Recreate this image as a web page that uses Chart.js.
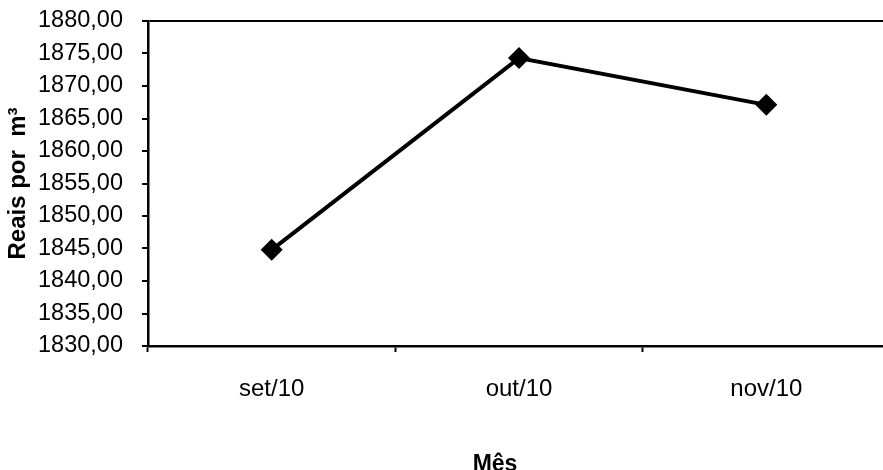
<!DOCTYPE html>
<html>
<head>
<meta charset="utf-8">
<script src="https://cdn.jsdelivr.net/npm/chart.js@4.4.0/dist/chart.umd.min.js"></script>
<style>
  html, body { margin: 0; padding: 0; background: #fff; overflow: hidden; }
  #wrap { width: 883px; height: 470px; overflow: hidden; }
</style>
</head>
<body>
<div id="wrap"><canvas id="chart" width="990" height="478"></canvas></div>
<script>
// data
const months = ["set/10", "out/10", "nov/10"];
const pricePerM3 = [1844.8, 1874.3, 1867.1];
const yMin = 1830;
const yMax = 1880;
const yStep = 5;

const FONT = "'Liberation Sans', Arial, sans-serif";

// "1845" -> "1845,00"
function fmt(v) {
  return v.toFixed(2).replace(".", ",");
}

const ctx = document.getElementById("chart").getContext("2d");
new Chart(ctx, {
  type: "line",
  data: {
    labels: months,
    datasets: [{
      data: pricePerM3,
      borderColor: "#000",
      backgroundColor: "#000",
      borderWidth: 4,
      pointStyle: "rectRot",
      pointRadius: 11,
      pointBorderWidth: 0,
      tension: 0
    }]
  },
  options: {
    responsive: false,
    animation: false,
    devicePixelRatio: 1,
    layout: { padding: { top: 21, left: 0, right: 0, bottom: 0 } },
    plugins: {
      legend: { display: false },
      tooltip: { enabled: false },
      title: {
        display: true,
        position: "bottom",
        text: "Mês",
        color: "#000",
        font: { family: FONT, size: 23, weight: "bold", lineHeight: 1.2 },
        padding: { top: 0, bottom: 0 }
      }
    },
    scales: {
      x: {
        type: "category",
        offset: true,
        grid: {
          display: true,
          offset: true,
          drawOnChartArea: false,
          tickLength: 6,
          tickColor: "#000",
          tickWidth: 2
        },
        border: { display: true, color: "#000", width: 2.5 },
        ticks: {
          color: "#000",
          padding: 23,
          font: { family: FONT, size: 24 }
        },
        afterFit: s => { s.height = 104.4; }
      },
      y: {
        min: yMin,
        max: yMax,
        grid: {
          // only the top line of the frame is drawn across the plot
          color: c => (c.tick && c.tick.value === yMax ? "#000" : "rgba(0,0,0,0)"),
          lineWidth: 2,
          tickLength: 6,
          tickColor: "#000",
          tickWidth: 2
        },
        border: { display: true, color: "#000", width: 2.5 },
        ticks: {
          stepSize: yStep,
          color: "#000",
          padding: 19,
          font: { family: FONT, size: 23.5 },
          callback: v => fmt(v)
        },
        title: {
          display: true,
          text: "Reais por  m³",
          color: "#000",
          font: { family: FONT, size: 24, weight: "bold", lineHeight: 1 },
          padding: { top: 6, bottom: 0 }
        },
        // fixed width, and no extra room above the top label
        afterFit: s => { s.width = 148; s.paddingTop = 0; s.paddingBottom = 0; }
      },
      // empty axis on the right keeps the plot wider than the window, like the cropped original
      yRight: {
        position: "right",
        min: yMin,
        max: yMax,
        grid: { display: false },
        border: { display: false },
        ticks: { display: false },
        afterFit: s => { s.width = 100; s.paddingTop = 0; s.paddingBottom = 0; }
      }
    }
  }
});
</script>
</body>
</html>
